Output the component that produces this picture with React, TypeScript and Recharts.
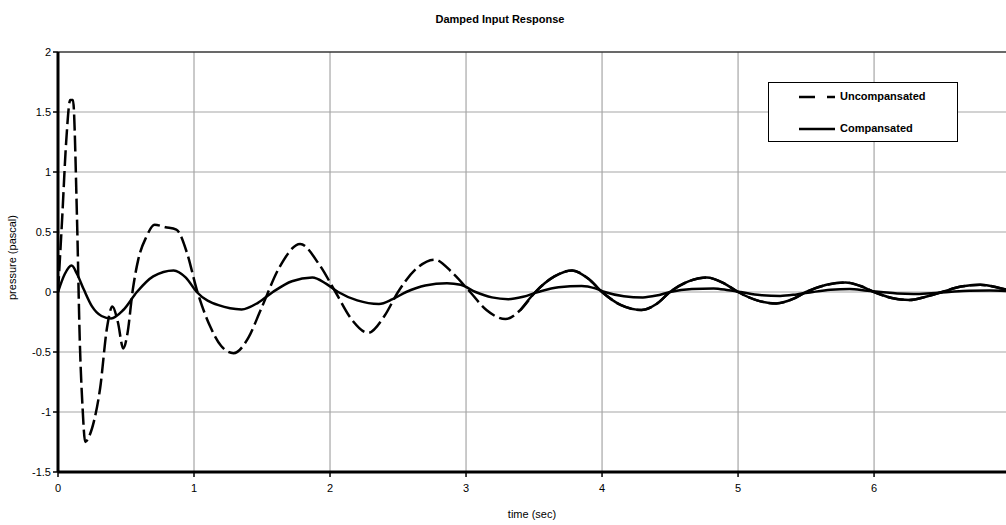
import { LineChart, Line, XAxis, YAxis, CartesianGrid, ReferenceLine, Legend } from "recharts";

const FONT = "'Liberation Sans', Arial, sans-serif";

// uncompensated response (dashed)
const uncompTime = [
  0, 0.03, 0.06, 0.09, 0.11, 0.14, 0.16, 0.18, 0.2, 0.23, 0.27, 0.31, 0.36, 0.4, 0.44, 0.48, 0.51, 0.55,
  0.59, 0.65, 0.71, 0.79, 0.87, 0.95, 1.02, 1.12, 1.2, 1.29, 1.4, 1.49, 1.63, 1.78, 1.92, 2.04, 2.16,
  2.28, 2.4, 2.5, 2.64, 2.77, 2.9, 3.03, 3.15, 3.29, 3.4, 3.51, 3.65, 3.78, 3.9, 4.0, 4.14, 4.29, 4.4,
  4.5, 4.64, 4.77, 4.9, 5.0, 5.14, 5.28, 5.4, 5.5, 5.65, 5.79, 5.9, 6.0, 6.13, 6.26, 6.38, 6.5, 6.64,
  6.78, 6.9, 6.97,
];
const uncompValues = [
  0, 0.6, 1.25, 1.6, 1.6, 0.6, -0.4, -0.95, -1.25, -1.2, -1.05, -0.8, -0.3, -0.12, -0.25, -0.47, -0.35, 0.02,
  0.27, 0.46, 0.56, 0.54, 0.52, 0.32, 0.02, -0.29, -0.45, -0.51, -0.38, -0.15, 0.21, 0.4, 0.23, 0, -0.23,
  -0.34, -0.2, 0, 0.2, 0.27, 0.16, 0, -0.15, -0.225, -0.15, 0, 0.13, 0.18, 0.11, 0, -0.11, -0.15, -0.1,
  0, 0.09, 0.12, 0.07, 0, -0.07, -0.095, -0.06, 0, 0.06, 0.08, 0.05, 0, -0.05, -0.067, -0.04, 0, 0.045,
  0.06, 0.04, 0.02,
];

// compensated response (solid)
const compTime = [
  0, 0.05, 0.1, 0.14, 0.19, 0.25, 0.32, 0.39, 0.48, 0.58, 0.7, 0.85, 0.94, 1.02, 1.18, 1.35, 1.47, 1.58,
  1.72, 1.87, 1.97, 2.06, 2.2, 2.36, 2.46, 2.56, 2.7, 2.86, 2.96, 3.07, 3.19, 3.31, 3.42, 3.53, 3.68,
  3.85, 3.95, 4.02, 4.16, 4.3, 4.4, 4.5, 4.66, 4.82, 4.93, 5.02, 5.16, 5.31, 5.43, 5.55, 5.68, 5.82,
  5.95, 6.05, 6.17, 6.29, 6.42, 6.55, 6.7, 6.85, 6.97,
];
const compValues = [
  0, 0.15, 0.22, 0.15, 0.02, -0.12, -0.2, -0.22, -0.15, 0, 0.13, 0.18, 0.12, 0, -0.11, -0.145, -0.09, 0,
  0.09, 0.12, 0.07, 0, -0.07, -0.1, -0.06, 0, 0.055, 0.073, 0.06, 0, -0.045, -0.06, -0.04, 0, 0.04,
  0.05, 0.03, 0, -0.035, -0.045, -0.03, 0, 0.025, 0.03, 0.015, 0, -0.025, -0.033, -0.02, 0, 0.018, 0.025,
  0.01, 0, -0.013, -0.017, -0.01, 0, 0.01, 0.012, 0.008,
];

const xTicks = [0, 1, 2, 3, 4, 5, 6];
const yTicks = [-1.5, -1, -0.5, 0, 0.5, 1, 1.5, 2];

const uncompData = uncompTime.map((t, i) => ({ t, v: uncompValues[i] }));
const compData = compTime.map((t, i) => ({ t, v: compValues[i] }));
// past ~3.4 s the dashes of the original run together
const uncompTail = uncompData.filter((d) => d.t >= 3.4);

const fmt = (v: number) => String(v);

const LegendBox = () => (
  <div
    style={{
      width: 188,
      height: 58,
      border: "1px solid #000",
      background: "#fff",
      fontFamily: FONT,
      fontSize: 11,
      fontWeight: "bold",
      position: "relative",
    }}
  >
    <svg width={40} height={58} style={{ position: "absolute", left: 28, top: 0 }}>
      <line x1={2} y1={14} x2={38} y2={14} stroke="#000" strokeWidth={2.5} strokeDasharray="16 12" />
      <line x1={2} y1={46} x2={38} y2={46} stroke="#000" strokeWidth={2.5} />
    </svg>
    <div style={{ position: "absolute", left: 71, top: 7 }}>Uncompansated</div>
    <div style={{ position: "absolute", left: 71, top: 39 }}>Compansated</div>
  </div>
);

export default function App() {
  return (
    <div style={{ position: "absolute", left: 0, top: 0, width: 1006, height: 525, background: "#fff", overflow: "hidden" }}>
      <div
        style={{
          position: "absolute",
          top: 13,
          left: 0,
          width: 1000,
          textAlign: "center",
          fontFamily: FONT,
          fontSize: 11,
          fontWeight: "bold",
        }}
      >
        Damped Input Response
      </div>
      <LineChart width={1006} height={525} margin={{ top: 52, right: 0, bottom: 23, left: 0 }}>
        <CartesianGrid stroke="#a6a6a6" strokeWidth={1.2} horizontalValues={yTicks} verticalValues={xTicks} />
        <XAxis
          dataKey="t"
          type="number"
          domain={[0, 6.97]}
          ticks={xTicks}
          allowDataOverflow
          height={30}
          axisLine={{ stroke: "#000", strokeWidth: 3 }}
          tickLine={{ stroke: "#000", strokeWidth: 1.5 }}
          tickSize={5}
          tick={{ fill: "#000", fontSize: 11, fontFamily: FONT, dy: 5 }}
          tickFormatter={fmt}
          label={{ value: "time (sec)", position: "insideBottom", offset: -16, fill: "#000", fontSize: 11, fontFamily: FONT }}
        />
        <YAxis
          type="number"
          domain={[-1.5, 2]}
          ticks={yTicks}
          width={58}
          axisLine={{ stroke: "#000", strokeWidth: 3 }}
          tickLine={{ stroke: "#000", strokeWidth: 1.5 }}
          tickSize={5}
          tick={{ fill: "#000", fontSize: 11, fontFamily: FONT }}
          tickFormatter={fmt}
          label={{
            value: "pressure (pascal)",
            angle: -90,
            position: "insideLeft",
            offset: 12,
            dy: 38,
            fill: "#000",
            fontSize: 11,
            fontFamily: FONT,
          }}
        />
        <ReferenceLine y={2} stroke="#000" strokeWidth={1.2} />
        <Legend
          layout="horizontal"
          verticalAlign="middle"
          align="center"
          wrapperStyle={{ left: 768, top: 82, width: 190 }}
          content={() => <LegendBox />}
        />
        <Line
          data={uncompData}
          dataKey="v"
          name="Uncompansated"
          type="monotone"
          stroke="#000"
          strokeWidth={2.5}
          strokeDasharray="16 5"
          dot={false}
          isAnimationActive={false}
        />
        <Line
          data={uncompTail}
          dataKey="v"
          name="Uncompansated tail"
          legendType="none"
          type="monotone"
          stroke="#000"
          strokeWidth={2.5}
          dot={false}
          isAnimationActive={false}
        />
        <Line
          data={compData}
          dataKey="v"
          name="Compansated"
          type="monotone"
          stroke="#000"
          strokeWidth={2.5}
          dot={false}
          isAnimationActive={false}
        />
      </LineChart>
    </div>
  );
}
